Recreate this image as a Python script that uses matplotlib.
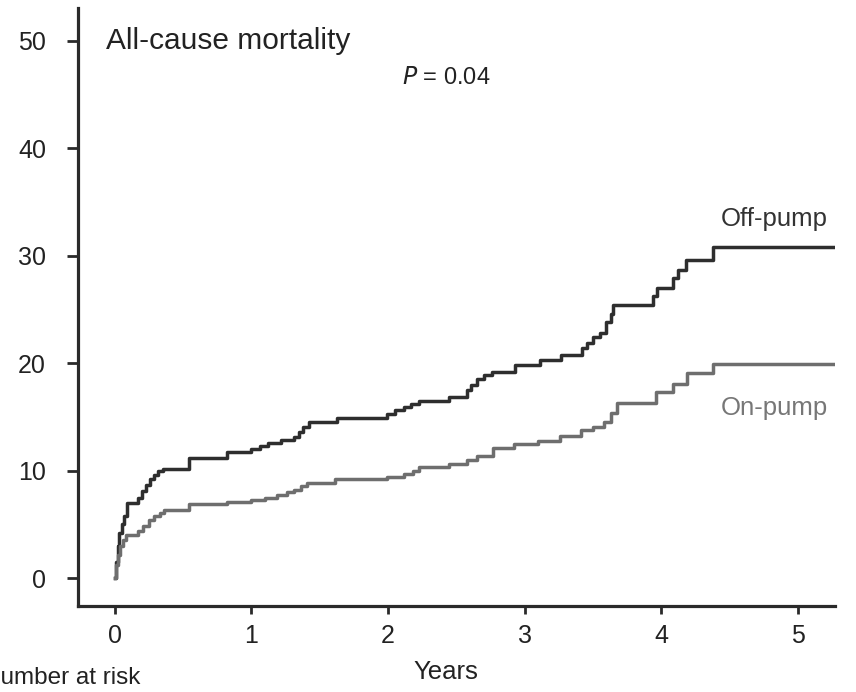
import matplotlib
matplotlib.use("Agg")
import matplotlib.pyplot as plt

plt.rcParams['font.family'] = ['Liberation Sans', 'DejaVu Sans']

# cumulative all-cause mortality (%), step points
off_t = [0, 0.01, 0.02, 0.03, 0.05, 0.07, 0.09, 0.17, 0.20, 0.23, 0.26, 0.29,
         0.32, 0.35, 0.54, 0.82, 1.00, 1.06, 1.12, 1.22, 1.31, 1.35, 1.38,
         1.42, 1.63, 1.99, 2.05, 2.12, 2.17, 2.23, 2.45, 2.58, 2.61, 2.65,
         2.70, 2.76, 2.93, 3.11, 3.27, 3.42, 3.46, 3.50, 3.55, 3.60, 3.63,
         3.65, 3.94, 3.97, 4.09, 4.12, 4.18, 4.38, 5.27]
off_y = [0, 1.5, 3.0, 4.2, 5.0, 5.8, 7.0, 7.5, 8.1, 8.7, 9.2, 9.6,
         10.0, 10.2, 11.2, 11.7, 12.0, 12.3, 12.6, 12.9, 13.1, 13.6, 14.1,
         14.5, 14.9, 15.3, 15.6, 15.9, 16.2, 16.5, 16.9, 17.5, 18.0, 18.5,
         18.9, 19.2, 19.8, 20.3, 20.8, 21.4, 21.9, 22.4, 22.8, 23.8, 24.6,
         25.4, 26.2, 27.0, 27.9, 28.7, 29.6, 30.8, 30.8]

on_t = [0, 0.01, 0.02, 0.04, 0.06, 0.08, 0.17, 0.21, 0.25, 0.29, 0.33, 0.36,
        0.54, 0.82, 1.00, 1.10, 1.19, 1.26, 1.31, 1.36, 1.41, 1.61, 1.99,
        2.12, 2.18, 2.23, 2.45, 2.58, 2.65, 2.77, 2.92, 3.10, 3.26, 3.41,
        3.50, 3.58, 3.63, 3.68, 3.96, 4.09, 4.19, 4.38, 5.27]
on_y = [0, 1.2, 2.2, 3.0, 3.6, 4.0, 4.4, 4.9, 5.4, 5.8, 6.1, 6.3,
        6.9, 7.1, 7.3, 7.5, 7.7, 8.0, 8.2, 8.6, 8.9, 9.2, 9.4,
        9.7, 10.0, 10.3, 10.6, 11.0, 11.4, 12.1, 12.5, 12.8, 13.2, 13.8,
        14.1, 14.5, 15.4, 16.3, 17.3, 18.1, 19.1, 19.9, 19.9]

x_ticks = [0, 1, 2, 3, 4, 5]
y_ticks = [0, 10, 20, 30, 40, 50]

fig = plt.figure(figsize=(8.56, 6.92), dpi=100)
ax = fig.add_axes([0.091, 0.124, 0.884, 0.864])

ax.step(off_t, off_y, where='post', color='#2e2e2e', lw=2.5)
ax.step(on_t, on_y, where='post', color='#6e6e6e', lw=2.5)

ax.set_xlim(-0.27, 5.27)
ax.set_ylim(-2.6, 53)
ax.set_xticks(x_ticks)
ax.set_yticks(y_ticks)

for side in ['top', 'right']:
    ax.spines[side].set_visible(False)
for side in ['left', 'bottom']:
    ax.spines[side].set_linewidth(2.3)
    ax.spines[side].set_color('#2a2a2a')

ax.tick_params(axis='x', length=6, width=2, color='#2a2a2a', pad=7,
               labelsize=18, labelcolor='#222222')
ax.tick_params(axis='y', length=8, width=2, color='#2a2a2a', pad=15,
               labelsize=18, labelcolor='#222222')

ax.text(-0.066, 50, 'All-cause mortality', fontsize=21.5, color='#222222',
        va='center', ha='left')
ax.text(2.1, 46.5, '$P$ = 0.04', fontsize=17, color='#222222',
        va='center', ha='left')
ax.text(5.22, 33.4, 'Off-pump', fontsize=18.5, color='#333333',
        va='center', ha='right')
ax.text(5.22, 15.8, 'On-pump', fontsize=18.5, color='#777777',
        va='center', ha='right')

fig.text(446 / 856, 1 - 672 / 692, 'Years', fontsize=18.5, color='#222222',
         ha='center', va='center')
# the reference crops the start of this label at the left edge
fig.text(-0.02, 1 - 678 / 692, 'Number at risk', fontsize=17.5,
         color='#222222', ha='left', va='center')

fig.savefig('out.png', dpi=100)
